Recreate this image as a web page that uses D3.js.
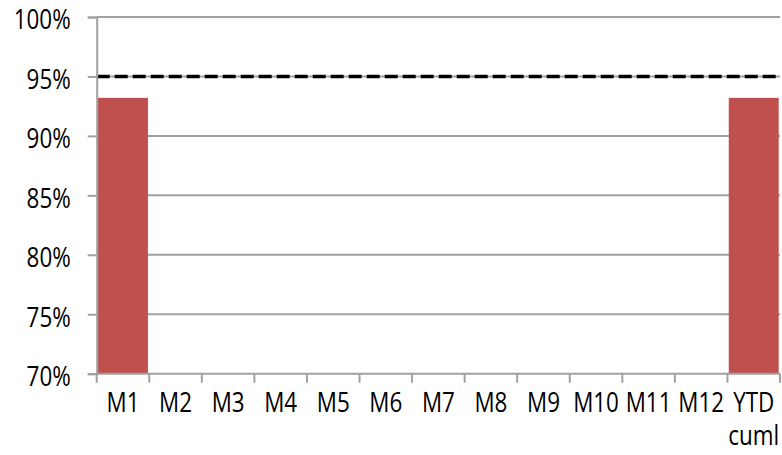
<!DOCTYPE html>
<html>
<head>
<meta charset="utf-8">
<script src="https://cdn.jsdelivr.net/npm/d3@7"></script>
<style>
  html, body { margin: 0; padding: 0; background: #fff; }
  svg { display: block; }
  text { font-family: "Open Sans", "Liberation Sans", Arial, sans-serif; fill: #000; }
</style>
</head>
<body>
<svg id="chart" width="782" height="455"></svg>
<script>
// Monthly performance (%) with year-to-date cumulative value
const categories = ["M1", "M2", "M3", "M4", "M5", "M6", "M7", "M8", "M9", "M10", "M11", "M12", "YTD cuml"];
const values = [93.2, null, null, null, null, null, null, null, null, null, null, null, 93.2];
const target = 95;
const yTicks = [70, 75, 80, 85, 90, 95, 100];

const svg = d3.select("#chart");
const plotLeft = 96.7, plotRight = 780, plotTop = 17, plotBottom = 373.7;

const x = d3.scaleBand().domain(categories).range([plotLeft, plotRight])
  .paddingInner(0.05).paddingOuter(0.025);
const y = d3.scaleLinear().domain([70, 100]).range([plotBottom, plotTop]);

const fontSize = 27, squeeze = 0.83;
const gridColor = "#a0a0a0";

// horizontal gridlines
svg.append("g").selectAll("line").data(yTicks.filter(t => t > 70)).join("line")
  .attr("x1", plotLeft).attr("x2", plotRight)
  .attr("y1", d => y(d)).attr("y2", d => y(d))
  .attr("stroke", gridColor).attr("stroke-width", 2);

// bars
const data = categories.map((c, i) => ({ c, v: values[i] })).filter(d => d.v != null);
svg.append("g").selectAll("rect").data(data).join("rect")
  .attr("x", d => x(d.c)).attr("width", x.bandwidth())
  .attr("y", d => y(d.v)).attr("height", d => y(70) - y(d.v))
  .attr("fill", "#c0504d");

// target line
svg.append("line")
  .attr("x1", plotLeft).attr("x2", plotRight)
  .attr("y1", y(target)).attr("y2", y(target))
  .attr("stroke", "#000").attr("stroke-width", 3.5)
  .attr("stroke-dasharray", "13,5");

// y axis
const yAxis = svg.append("g").attr("transform", `translate(${plotLeft},0)`)
  .call(d3.axisLeft(y).tickValues(yTicks).tickSize(9).tickPadding(0).tickFormat(d => d + "%"));
yAxis.select(".domain").attr("stroke", gridColor).attr("stroke-width", 2);
yAxis.selectAll(".tick line").attr("stroke", gridColor).attr("stroke-width", 2);
yAxis.selectAll(".tick text").remove();
yAxis.selectAll(".tick").append("text")
  .attr("transform", `translate(-26,1) scale(${squeeze},1)`)
  .attr("text-anchor", "end").attr("dominant-baseline", "central")
  .attr("font-size", fontSize).attr("fill", "#000")
  .text(d => d + "%");

// x axis with ticks at category boundaries
const xg = svg.append("g");
xg.append("line").attr("x1", plotLeft).attr("x2", plotRight)
  .attr("y1", plotBottom).attr("y2", plotBottom)
  .attr("stroke", gridColor).attr("stroke-width", 2);
const step = x.step();
const bounds = d3.range(categories.length + 1).map(i => plotLeft + i * step);
xg.selectAll("line.tk").data(bounds).join("line").attr("class", "tk")
  .attr("x1", d => d).attr("x2", d => d)
  .attr("y1", plotBottom).attr("y2", plotBottom + 9)
  .attr("stroke", gridColor).attr("stroke-width", 2);

const labels = xg.selectAll("text").data(categories).join("text")
  .attr("transform", d => `translate(${x(d) + x.bandwidth() / 2},412) scale(${squeeze},1)`)
  .attr("text-anchor", "middle").attr("font-size", fontSize).attr("fill", "#000");
labels.each(function (d) {
  const parts = d.split(" ");
  const t = d3.select(this);
  parts.forEach((p, i) => {
    t.append("tspan").attr("x", 0).attr("dy", i === 0 ? 0 : 33).text(p);
  });
});
</script>
</body>
</html>
